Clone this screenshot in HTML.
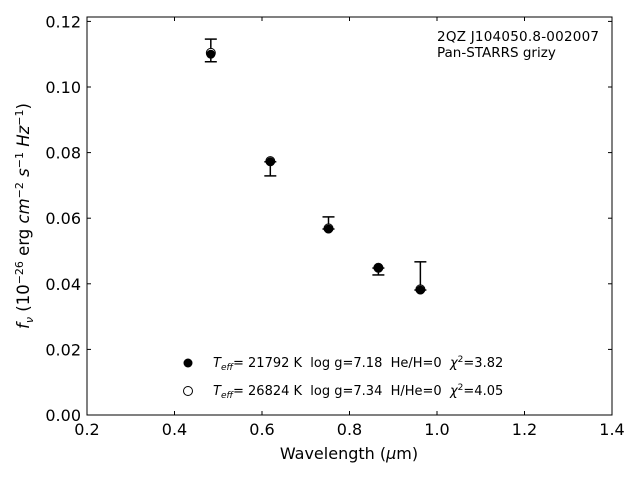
<!DOCTYPE html>
<html><head><meta charset="utf-8"><style>
body{margin:0;background:#fff;font-family:"Liberation Sans","DejaVu Sans",sans-serif}
svg text{font-family:"DejaVu Sans","Liberation Sans",sans-serif;white-space:pre}
</style></head><body>
<svg id="c" width="640" height="480" xmlns="http://www.w3.org/2000/svg">
<rect x="0" y="0" width="640" height="480" fill="#fff"/>
<g id="g"></g>
</svg>
<script>
const wavelengths=[0.483,0.619,0.752,0.866,0.962];
const fluxObs=[0.1100,0.0772,0.0567,0.0448,0.0381];
const errLow=[0.1077,0.0729,0.0567,0.0427,0.0381];
const errHigh=[0.1146,0.0772,0.0604,0.0448,0.0467];
const model2=[0.1104,0.0774,0.0569,0.0449,0.0383];
const xTicks=[0.2,0.4,0.6,0.8,1.0,1.2,1.4];
const yTicks=[0.00,0.02,0.04,0.06,0.08,0.10,0.12];
const L=87,R=612,T=17,B=415;
const xs=v=>L+(v-0.2)/1.2*(R-L);
const ys=v=>B-v*3280;
const NS='http://www.w3.org/2000/svg';
const g=document.getElementById('g');
function mk(t,a,p){const e=document.createElementNS(NS,t);for(const k in a)e.setAttribute(k,a[k]);(p||g).appendChild(e);return e;}
const frame=mk('rect',{x:L,y:T,width:R-L,height:B-T,fill:'none',stroke:'#000','stroke-width':1});


xTicks.forEach(v=>{const x=xs(v);
 const t=mk('line',{x1:x,x2:x,y1:B,y2:B-4,stroke:'#000'});
 
 mk('line',{x1:x,x2:x,y1:T,y2:T+4,stroke:'#000'});
 const l=mk('text',{x:x,y:B+20,'text-anchor':'middle','font-size':16});l.textContent=v.toFixed(1);
 });
yTicks.forEach(v=>{const y=ys(v);
 const t=mk('line',{x1:L,x2:L+4,y1:y,y2:y,stroke:'#000'});
 
 mk('line',{x1:R,x2:R-4,y1:y,y2:y,stroke:'#000'});
 const l=mk('text',{x:L-6,y:y+6,'text-anchor':'end','font-size':16});l.textContent=v.toFixed(2);
 });
wavelengths.forEach((w,i)=>{const x=xs(w);
 const e=mk('g',{stroke:'#000','stroke-width':1.5});
 
 mk('line',{x1:x,x2:x,y1:ys(errLow[i]),y2:ys(errHigh[i])},e);
 mk('line',{x1:x-6,x2:x+6,y1:ys(errLow[i]),y2:ys(errLow[i])},e);
 mk('line',{x1:x-6,x2:x+6,y1:ys(errHigh[i]),y2:ys(errHigh[i])},e);
 const o=mk('circle',{cx:x,cy:ys(model2[i]),r:4.5,fill:'#fff',stroke:'#000'});
 
 const f=mk('circle',{cx:x,cy:ys(fluxObs[i]),r:4.5,fill:'#000'});
 });
</script>
<svg width="640" height="480" style="position:absolute;left:0;top:0" xmlns="http://www.w3.org/2000/svg">
<text x="349" y="459" text-anchor="middle" font-size="16">Wavelength (<tspan font-style="italic">μ</tspan>m)</text>
<text transform="translate(29,216) rotate(-90)" text-anchor="middle" font-size="16.5"><tspan font-style="italic">f<tspan font-size="11" dy="4">ν</tspan></tspan><tspan dy="-4"> (10</tspan><tspan font-size="11" dy="-6">−26</tspan><tspan dy="6"> erg </tspan><tspan font-style="italic">cm</tspan><tspan font-size="11" dy="-6">−2</tspan><tspan dy="6" font-style="italic"> s</tspan><tspan font-size="11" dy="-6">−1</tspan><tspan dy="6" font-style="italic"> Hz</tspan><tspan font-size="11" dy="-6">−1</tspan><tspan dy="6">)</tspan></text>
<text x="437" y="41" font-size="13.5" textLength="162">2QZ J104050.8-002007</text>
<text x="437" y="57" font-size="13.5">Pan-STARRS grizy</text>
<g>
<circle cx="188" cy="363" r="4.5" fill="#000"/>
<text x="213" y="367" font-size="13"><tspan font-style="italic">T<tspan font-size="9" dy="3">eff</tspan></tspan><tspan dy="-3">= 21792 K  log g=7.18  He/H=0  </tspan><tspan font-style="italic">χ</tspan><tspan font-size="9" dy="-5">2</tspan><tspan dy="5">=3.82</tspan></text>
<circle cx="188" cy="391" r="4.5" fill="#fff" stroke="#000"/>
<text x="213" y="395" font-size="13"><tspan font-style="italic">T<tspan font-size="9" dy="3">eff</tspan></tspan><tspan dy="-3">= 26824 K  log g=7.34  H/He=0  </tspan><tspan font-style="italic">χ</tspan><tspan font-size="9" dy="-5">2</tspan><tspan dy="5">=4.05</tspan></text>
</g>
</svg>
</body></html>
